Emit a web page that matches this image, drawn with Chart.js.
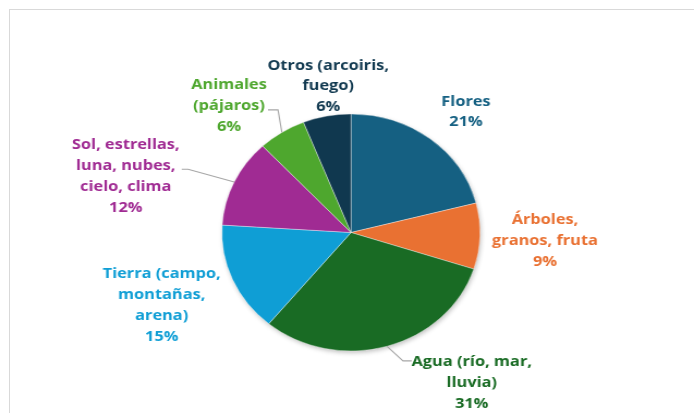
<!DOCTYPE html>
<html><head><meta charset="utf-8">
<script src="https://cdn.jsdelivr.net/npm/chart.js@4/dist/chart.umd.min.js"></script>
<style>
html,body{margin:0;padding:0;background:#fff;overflow:hidden;width:694px;height:413px}
#frame{position:absolute;left:9px;top:9px;width:720px;height:440px;border-top:1.5px solid #d9d9d9;border-left:1.5px solid #d9d9d9}
#wrap{position:absolute;left:0;top:0;width:637px;height:413px;transform:scaleX(1.08948);transform-origin:0 0}
</style></head><body>
<div id="frame"></div>
<div id="wrap"><canvas id="c" width="637" height="413"></canvas></div>
<script>
// ---- data ----
const categories = [
  ["Flores"],
  ["Árboles,", "granos, fruta"],
  ["Agua (río, mar,", "lluvia)"],
  ["Tierra (campo,", "montañas,", "arena)"],
  ["Sol, estrellas,", "luna, nubes,", "cielo, clima"],
  ["Animales", "(pájaros)"],
  ["Otros (arcoiris,", "fuego)"]
];
const values = [21, 9, 31, 15, 12, 6, 6];
const percentLabels = ["21%", "9%", "31%", "15%", "12%", "6%", "6%"];
const colors = ["#156082", "#E97132", "#196B24", "#0F9ED5", "#A02B93", "#4EA72E", "#10384F"];

// ---- label layout (offsets from pie centre) ----
const labelLayout = [
  { dx: 105.5, dy: -120.8 },
  { dx: 178, dy: 8.3 },
  { dx: 110.8, dy: 150, leader: { ex: 47.7, ey: 128.4, lx: 55.7 } },
  { dx: -173.8, dy: 72.7 },
  { dx: -206.8, dy: -56.3, leader: { ex: -149.6, ey: -63.3, lx: -155.4 } },
  { dx: -112, dy: -126.9, leader: { ex: -67, ey: -122.6, lx: -76.2 } },
  { dx: -21, dy: -146.3 }
];

const shadowPlugin = {
  id: 'pieShadow',
  beforeDatasetsDraw(chart) {
    const arc = chart.getDatasetMeta(0).data[0];
    if (!arc) return;
    const { x, y, outerRadius } = arc.getProps(['x', 'y', 'outerRadius'], true);
    const ctx = chart.ctx;
    ctx.save();
    ctx.shadowColor = 'rgba(0,0,0,0.28)';
    ctx.shadowBlur = 5;
    ctx.shadowOffsetX = 1;
    ctx.shadowOffsetY = 2;
    ctx.beginPath();
    ctx.arc(x, y, outerRadius - 0.5, 0, Math.PI * 2);
    ctx.fillStyle = '#ffffff';
    ctx.fill();
    ctx.restore();
  }
};

const labelPlugin = {
  id: 'outLabels',
  afterDatasetsDraw(chart) {
    const ctx = chart.ctx;
    const meta = chart.getDatasetMeta(0);
    const lh = 20.8;
    meta.data.forEach((arc, i) => {
      const { x, y, startAngle, endAngle, outerRadius } =
        arc.getProps(['x', 'y', 'startAngle', 'endAngle', 'outerRadius'], true);
      const L = labelLayout[i];
      if (L.leader) {
        const mid = (startAngle + endAngle) / 2;
        const px = x + outerRadius * Math.cos(mid);
        const py = y + outerRadius * Math.sin(mid);
        ctx.save();
        ctx.strokeStyle = '#a6a6a6';
        ctx.lineWidth = 1.1;
        ctx.beginPath();
        ctx.moveTo(px, py);
        ctx.lineTo(x + L.leader.ex, y + L.leader.ey);
        ctx.lineTo(x + L.leader.lx, y + L.leader.ey);
        ctx.stroke();
        ctx.restore();
      }
      const lines = [...categories[i], percentLabels[i]];
      ctx.save();
      ctx.font = '700 15px "Open Sans"';
      ctx.fillStyle = colors[i];
      ctx.textAlign = 'center';
      ctx.textBaseline = 'middle';
      const bx = x + L.dx, by = y + L.dy;
      lines.forEach((t, k) => {
        ctx.fillText(t, bx, by + (k - (lines.length - 1) / 2) * lh);
      });
      ctx.restore();
    });
  }
};

new Chart(document.getElementById('c'), {
  type: 'pie',
  data: {
    labels: categories.map(c => c.join(' ')),
    datasets: [{
      data: values,
      backgroundColor: colors,
      borderColor: 'rgba(255,255,255,0.45)',
      borderWidth: 0.8,
      radius: 118.5
    }]
  },
  options: {
    responsive: false,
    animation: false,
    layout: { padding: { left: 203.7, right: 196.3, top: 114, bottom: 62 } },
    plugins: { legend: { display: false }, tooltip: { enabled: false } }
  },
  plugins: [shadowPlugin, labelPlugin]
});
</script>
</body></html>
